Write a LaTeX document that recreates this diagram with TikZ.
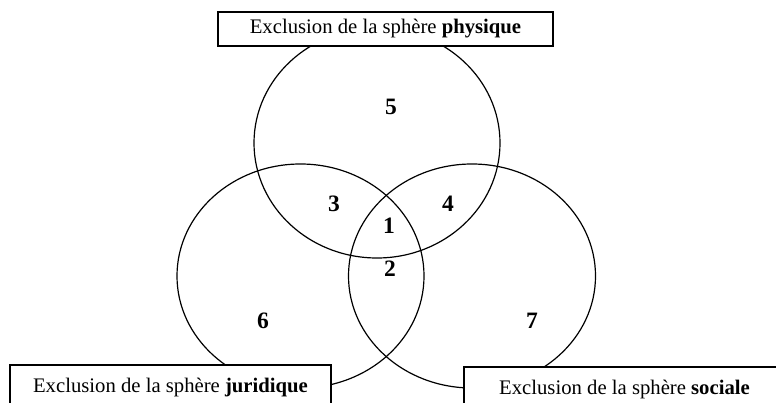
\documentclass[tikz,border=0pt]{standalone}
\usepackage{fontspec}
\setmainfont{Liberation Serif}
\usepackage{tikz}
\usetikzlibrary{shapes.geometric}
\tikzstyle{sphere} = [draw, ellipse, line width=1.2pt, inner sep=0pt]
\tikzstyle{title box} = [draw, fill=white, line width=1.4pt, inner sep=0pt, font=\fontsize{20.7}{24}\selectfont]
\tikzstyle{zone} = [font=\fontsize{23.5}{26}\selectfont\bfseries]

\begin{document}
\begin{tikzpicture}[x=1pt, y=-1pt]
\useasboundingbox (0,0) rectangle (776,403);

% the three spheres
\node (physique) [sphere, minimum width=246pt, minimum height=230pt] at (377,143) {};
\node (juridique) [sphere, minimum width=247pt, minimum height=224pt] at (300.5,276) {};
\node (sociale) [sphere, minimum width=247pt, minimum height=224pt] at (472,276) {};

% titles
\node (titre physique) [title box, minimum width=335pt, minimum height=34pt] at (385.5,29) {Exclusion de la sphère \textbf{physique}};
\node (titre juridique) [title box, minimum width=321pt, minimum height=46pt] at (170.5,388) {Exclusion de la sphère \textbf{juridique}};
\node (titre sociale) [title box, minimum width=321pt, minimum height=46pt] at (624.5,390) {Exclusion de la sphère \textbf{sociale}};

% zones
\node (z5) [zone] at (391,107) {5};
\node (z3) [zone] at (334,204) {3};
\node (z4) [zone] at (448,204) {4};
\node (z1) [zone] at (389,226) {1};
\node (z2) [zone] at (390,269) {2};
\node (z6) [zone] at (263,321) {6};
\node (z7) [zone] at (532,321) {7};

\end{tikzpicture}
\end{document}
